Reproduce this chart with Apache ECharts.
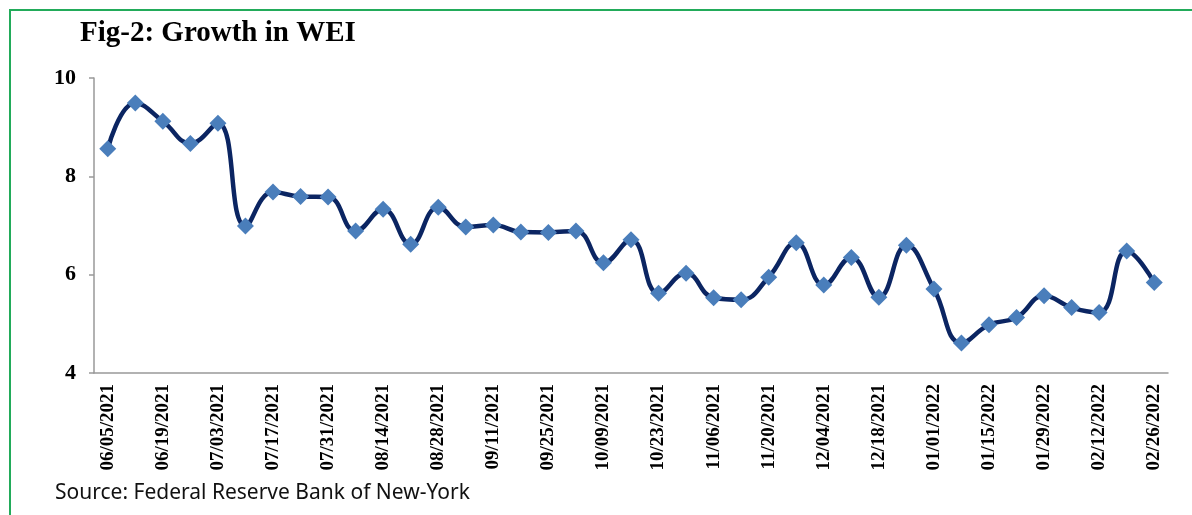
<!DOCTYPE html>
<html>
<head>
<meta charset="utf-8">
<script src="https://cdn.jsdelivr.net/npm/echarts@6/dist/echarts.min.js"></script>
<style>
    html, body { margin: 0; padding: 0; background: #fff; }
    #wrap { position: relative; width: 1192px; height: 515px; }
    #frame {
        position: absolute; left: 9px; top: 9px; right: 0; bottom: 0;
        border-top: 2px solid #22ab5a; border-left: 2px solid #22ab5a;
        pointer-events: none;
    }
    #chart { width: 1192px; height: 515px; }
</style>
</head>
<body>
<div id="wrap">
    <div id="chart"></div>
    <div id="frame"></div>
</div>
<script>
// weekly dates, 06/05/2021 .. 02/26/2022
const weeks = [
    "06/05/2021", "06/12/2021", "06/19/2021", "06/26/2021", "07/03/2021",
    "07/10/2021", "07/17/2021", "07/24/2021", "07/31/2021", "08/07/2021",
    "08/14/2021", "08/21/2021", "08/28/2021", "09/04/2021", "09/11/2021",
    "09/18/2021", "09/25/2021", "10/02/2021", "10/09/2021", "10/16/2021",
    "10/23/2021", "10/30/2021", "11/06/2021", "11/13/2021", "11/20/2021",
    "11/27/2021", "12/04/2021", "12/11/2021", "12/18/2021", "12/25/2021",
    "01/01/2022", "01/08/2022", "01/15/2022", "01/22/2022", "01/29/2022",
    "02/05/2022", "02/12/2022", "02/19/2022", "02/26/2022"
];

const weiGrowth = [
    8.56, 9.49, 9.12, 8.67, 9.08, 6.99, 7.68, 7.59, 7.58, 6.89,
    7.33, 6.62, 7.37, 6.97, 7.01, 6.87, 6.86, 6.89, 6.24, 6.71,
    5.62, 6.03, 5.53, 5.49, 5.95, 6.65, 5.79, 6.35, 5.54, 6.60,
    5.71, 4.61, 4.98, 5.13, 5.57, 5.33, 5.23, 6.48, 5.84
];

const yTicks = { min: 4, max: 10, step: 2 };

const titleText = "Fig-2: Growth in WEI";
const sourceText = "Source: Federal Reserve Bank of New-York";

const serif = "'Liberation Serif', 'DejaVu Serif', serif";

let chart = echarts.init(document.getElementById("chart"));
chart.setOption({
    animation: false,
    backgroundColor: "transparent",
    graphic: [
        {
            type: "text",
            left: 80,
            top: 19,
            style: {
                text: titleText,
                font: "bold 29px " + serif,
                fill: "#000"
            }
        },
        {
            type: "text",
            left: 55,
            top: 483,
            style: {
                text: sourceText,
                font: "21px 'Noto Sans', sans-serif",
                fill: "#111"
            }
        }
    ],
    grid: {
        left: 94,
        right: 24,
        top: 78,
        bottom: 142
    },
    xAxis: {
        type: "category",
        data: weeks,
        boundaryGap: true,
        axisLine: {
            lineStyle: { color: "#999", width: 1.5 }
        },
        axisTick: {
            interval: 0,
            length: 5,
            lineStyle: { color: "#999", width: 1.5 }
        },
        axisLabel: {
            interval: 1,
            rotate: 90,
            margin: 11,
            fontFamily: serif,
            fontWeight: "bold",
            fontSize: 19,
            color: "#000"
        }
    },
    yAxis: {
        type: "value",
        min: yTicks.min,
        max: yTicks.max,
        interval: yTicks.step,
        axisLine: {
            show: true,
            lineStyle: { color: "#999", width: 1.5 }
        },
        axisTick: {
            show: true,
            length: 5,
            lineStyle: { color: "#999", width: 1.5 }
        },
        splitLine: { show: false },
        axisLabel: {
            margin: 18,
            fontFamily: serif,
            fontWeight: "bold",
            fontSize: 22,
            color: "#000"
        }
    },
    series: [
        {
            name: "WEI",
            type: "line",
            data: weiGrowth,
            smooth: 0.45,
            symbol: "diamond",
            symbolSize: 17,
            lineStyle: { color: "#0b2562", width: 4.5 },
            itemStyle: { color: "#4a7ebb" }
        }
    ]
});
</script>
</body>
</html>
